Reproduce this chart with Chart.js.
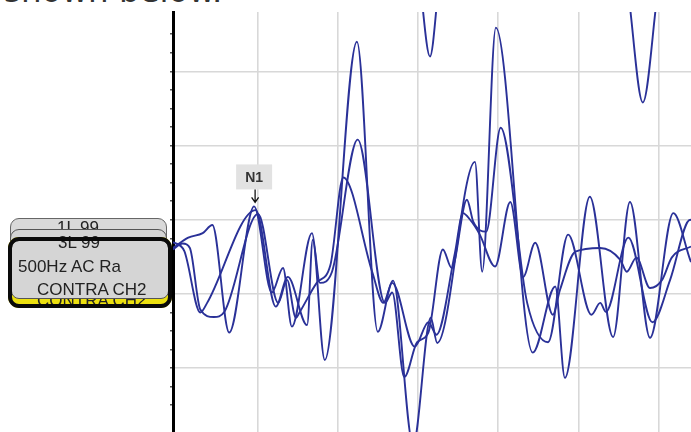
<!DOCTYPE html>
<html>
<head>
<meta charset="utf-8">
<script src="https://cdn.jsdelivr.net/npm/chart.js@4.4.1/dist/chart.umd.min.js"></script>
<style>
  body { margin: 0; background: #fff; }
  #wrap { position: relative; width: 691px; height: 432px; overflow: hidden; background: #fff; }
  #grafico { position: absolute; left: 0; top: 0; }
  .cap { position: absolute; left: 4px; top: -25px; font: 32.5px/32px "DejaVu Sans", sans-serif; color: #333; white-space: nowrap; }
  .box { position: absolute; box-sizing: border-box; }
  .txt { position: absolute; font: 17px/17px "Liberation Sans", Arial, sans-serif; color: #222; white-space: nowrap; }
</style>
</head>
<body>
<div id="wrap">
  <div class="cap">shown below.</div>
  <canvas id="grafico" width="691" height="432"></canvas>

  <!-- etiquetas das curvas empilhadas -->
  <div class="box" style="left:10px;top:218px;width:157px;height:40px;border:1px solid #666;border-radius:9px;background:#d9d9d9;"></div>
  <div class="txt" style="left:57px;top:219px;">1L 99</div>
  <div class="box" style="left:10px;top:229px;width:157px;height:40px;border:1px solid #555;border-radius:9px;background:#d4d4d4;"></div>
  <div class="box" style="left:8px;top:237px;width:164px;height:71px;border-radius:11px;background:#ece010;"></div>
  <div class="txt" style="left:37px;top:292px;">CONTRA CH2</div>
  <div class="box" style="left:11px;top:240px;width:158px;height:59px;border:1px solid #555;border-radius:8px;background:#d5d5d5;"></div>
  <div class="txt" style="left:18px;top:258px;">500Hz AC Ra</div>
  <div class="txt" style="left:37px;top:281px;">CONTRA CH2</div>
  <div class="txt" style="left:58px;top:234px;">3L 99</div>
  <div class="box" style="left:8px;top:237px;width:164px;height:71px;border:4px solid #0a0a0a;border-radius:11px;"></div>
</div>

<script>
// tempo (ms) e amplitude (uV)
const onda1 = [[-0.05,-0.38],[0.14,-0.24],[0.32,-0.18],[0.44,-0.07],[0.65,-1.52],[0.96,0.18],
  [1.18,-0.98],[1.32,-0.65],[1.43,-1.44],[1.68,-0.18],[1.84,-1.89],[2.24,2.40],[2.50,-1.51],
  [2.69,-0.82],[2.94,-3.03],[3.16,-1.32],[3.24,-1.66],[3.71,0.78],[3.80,-0.70],[3.97,2.59],
  [4.43,-1.79],[4.71,-0.90],[4.83,-2.13],[5.14,0.31],[5.43,-1.58],[5.64,0.24],[5.89,-1.59],
  [6.18,0.09],[6.40,-0.57],[6.50,-0.80]];

const onda2 = [[-0.05,-0.30],[0.09,-0.42],[0.29,-1.25],[0.37,-1.13],[0.98,0.13],[1.23,-1.17],
  [1.38,-0.77],[1.62,-1.42],[1.69,-0.27],[1.78,-0.85],[1.93,-0.70],[2.25,1.08],[2.59,-1.12],
  [2.68,-0.98],[2.83,-2.12],[2.99,-1.65],[3.13,-1.52],[3.31,-0.40],[3.42,-0.65],[3.61,0.27],
  [3.69,-0.03],[3.85,-0.16],[4.03,1.24],[4.36,-1.12],[4.62,-1.65],[4.87,-0.20],[5.16,-1.28],
  [5.27,-1.12],[5.34,-1.24],[5.62,-0.24],[5.92,-1.38],[6.14,-0.81],[6.39,0.00],[6.50,-0.15]];

const onda3 = [[-0.05,-0.40],[0.07,-0.32],[0.16,-0.38],[0.29,-1.21],[0.46,-1.31],[0.59,-1.24],
  [1.01,0.08],[1.26,-1.12],[1.37,-0.81],[1.48,-1.32],[1.53,-1.24],[1.74,-0.85],[1.91,-0.61],
  [2.07,0.57],[2.43,-0.70],[2.57,-1.12],[2.68,-0.85],[2.96,-1.71],[3.13,-1.38],[3.23,-1.55],
  [3.46,-0.45],[3.56,0.09],[3.65,0.00],[3.77,-0.20],[3.96,-0.63],[4.15,0.24],[4.31,-0.77],
  [4.46,-0.31],[4.68,-1.28],[4.77,-0.94],[4.96,-0.43],[5.27,-0.38],[5.52,-0.54],[5.60,-0.70],
  [5.72,-0.51],[5.89,-0.92],[6.04,-0.81],[6.16,-0.51],[6.40,-0.36],[6.50,-0.30]];

// curva do canal de cima (só os vales aparecem)
const ondaTopo = [[2.50,4.50],[3.00,3.37],[3.15,2.20],[3.29,3.37],[4.50,4.50],
  [5.58,3.30],[5.80,1.58],[6.02,3.30],[6.50,4.00]];

const picoN1 = { rotulo: 'N1', tempo: 0.96, amp: 0.18 };

const COR = '#2a3198';

function serie(onda) {
  return {
    data: onda.map(([t, v]) => ({ x: t, y: v })),
    borderColor: COR,
    borderWidth: 1.9,
    pointRadius: 0,
    cubicInterpolationMode: 'monotone',
    clip: 0
  };
}

const inteiro = v => Math.abs(v - Math.round(v)) < 1e-6;
const quarto = v => Math.abs(v * 4 - Math.round(v * 4)) < 1e-6;

// marcador N1
const marcaN1 = {
  id: 'marcaN1',
  afterDatasetsDraw(chart) {
    const ctx = chart.ctx;
    const px = chart.scales.x.getPixelForValue(picoN1.tempo);
    const py = chart.scales.y.getPixelForValue(picoN1.amp);
    const w = 36, h = 25;
    const base = py - 17;
    ctx.save();
    ctx.fillStyle = '#e2e2e2';
    ctx.fillRect(px - w / 2, base - h, w, h);
    ctx.fillStyle = '#333';
    ctx.font = 'bold 14px "Liberation Sans", Arial, sans-serif';
    ctx.textAlign = 'center';
    ctx.textBaseline = 'middle';
    ctx.fillText(picoN1.rotulo, px, base - h / 2 + 1);
    ctx.strokeStyle = '#111';
    ctx.lineWidth = 1.3;
    ctx.beginPath();
    ctx.moveTo(px + 1, base);
    ctx.lineTo(px + 1, py - 4);
    ctx.moveTo(px - 2.5, py - 9);
    ctx.lineTo(px + 1, py - 4);
    ctx.lineTo(px + 4.5, py - 9);
    ctx.stroke();
    ctx.restore();
  }
};

new Chart(document.getElementById('grafico'), {
  type: 'line',
  data: { datasets: [serie(onda1), serie(onda2), serie(onda3), serie(ondaTopo)] },
  options: {
    responsive: false,
    animation: false,
    layout: { padding: { left: 170, top: 12, right: 0, bottom: 0 } },
    plugins: { legend: { display: false }, tooltip: { enabled: false } },
    scales: {
      x: {
        type: 'linear',
        min: -0.05,
        max: 6.40,
        ticks: { display: false, stepSize: 1 },
        grid: {
          drawTicks: false,
          lineWidth: 1.6,
          color: c => inteiro(c.tick.value) ? '#d8d8d8' : 'rgba(0,0,0,0)'
        },
        border: { display: false }
      },
      y: {
        type: 'linear',
        min: -2.86,
        max: 2.80,
        ticks: { display: false, stepSize: 0.25 },
        grid: {
          drawTicks: true,
          tickLength: 3,
          lineWidth: 1.6,
          color: c => inteiro(c.tick.value) ? '#d8d8d8' : 'rgba(0,0,0,0)',
          tickColor: c => quarto(c.tick.value) ? '#555' : 'rgba(0,0,0,0)'
        },
        border: { display: true, color: '#000', width: 3 }
      }
    }
  },
  plugins: [marcaN1]
});
</script>
</body>
</html>
